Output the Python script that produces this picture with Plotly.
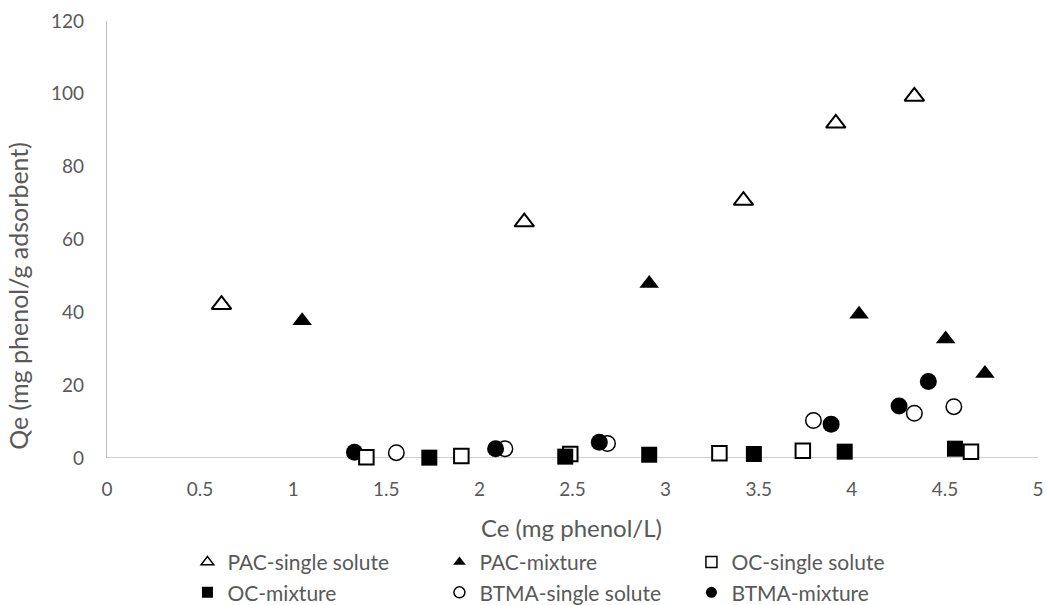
import plotly.graph_objects as go

# ---- data ----
pac_single_x = [0.615, 2.241, 3.418, 3.914, 4.336]
pac_single_y = [42.1, 64.8, 70.7, 91.9, 99.3]

pac_mix_x = [1.048, 2.912, 4.039, 4.504, 4.715]
pac_mix_y = [37.7, 47.9, 39.5, 32.7, 23.2]

oc_single_x = [1.393, 1.903, 2.488, 3.289, 3.737, 4.640]
oc_single_y = [0.2, 0.55, 1.1, 1.28, 2.0, 1.74]

oc_mix_x = [1.731, 2.461, 2.912, 3.474, 3.962, 4.554]
oc_mix_y = [0.1, 0.37, 0.9, 1.1, 1.74, 2.56]

btma_single_x = [1.554, 2.137, 2.688, 3.794, 4.336, 4.548]
btma_single_y = [1.47, 2.56, 4.0, 10.3, 12.3, 14.1]

btma_mix_x = [1.329, 2.087, 2.644, 3.889, 4.254, 4.411]
btma_mix_y = [1.56, 2.56, 4.3, 9.3, 14.3, 21.0]

series_names = ["PAC-single solute", "PAC-mixture", "OC-single solute",
                "OC-mixture", "BTMA-single solute", "BTMA-mixture"]

x_ticks = [0, 0.5, 1, 1.5, 2, 2.5, 3, 3.5, 4, 4.5, 5]
x_tick_labels = ["0", "0.5", "1", "1.5", "2", "2.5", "3", "3.5", "4", "4.5", "5"]
y_ticks = [0, 20, 40, 60, 80, 100, 120]

x_title = "Ce (mg phenol/L)"
y_title = "Qe (mg phenol/g adsorbent)"

FONT = "Lato, 'Open Sans', sans-serif"
GREY = "#595959"

styles = {
    "PAC-single solute": dict(symbol="triangle-up", color="white", line=dict(color="black", width=2), size=17),
    "PAC-mixture": dict(symbol="triangle-up", color="black", line=dict(color="black", width=0), size=17),
    "OC-single solute": dict(symbol="square", color="white", line=dict(color="black", width=2), size=14.5),
    "OC-mixture": dict(symbol="square", color="black", line=dict(color="black", width=0), size=16),
    "BTMA-single solute": dict(symbol="circle", color="white", line=dict(color="black", width=1.5), size=15.5),
    "BTMA-mixture": dict(symbol="circle", color="black", line=dict(color="black", width=0), size=17),
}
legend_sizes = {"triangle-up": 11, "square": 11, "circle": 11}

data = {
    "PAC-single solute": (pac_single_x, pac_single_y),
    "PAC-mixture": (pac_mix_x, pac_mix_y),
    "OC-single solute": (oc_single_x, oc_single_y),
    "OC-mixture": (oc_mix_x, oc_mix_y),
    "BTMA-single solute": (btma_single_x, btma_single_y),
    "BTMA-mixture": (btma_mix_x, btma_mix_y),
}

fig = go.Figure()

# data traces (drawing order chosen to match overlaps in the reference)
draw_order = ["PAC-single solute", "PAC-mixture", "BTMA-single solute",
              "BTMA-mixture", "OC-single solute", "OC-mixture"]
for name in draw_order:
    xs, ys = data[name]
    st = styles[name]
    fig.add_trace(go.Scatter(
        x=xs, y=ys, mode="markers", name=name, showlegend=False,
        marker=dict(symbol=st["symbol"], size=st["size"], color=st["color"], line=st["line"]),
        cliponaxis=False,
    ))

# legend entries (small symbols like the reference)
for name in series_names:
    st = styles[name]
    lw = st["line"]["width"]
    fig.add_trace(go.Scatter(
        x=[None], y=[None], mode="markers", name=name, showlegend=True,
        marker=dict(symbol=st["symbol"], size=legend_sizes[st["symbol"]], color=st["color"],
                    line=dict(color="black", width=1.5 if lw else 0)),
    ))

fig.update_layout(
    width=1047, height=605,
    margin=dict(l=106.5, r=9, t=21, b=147, autoexpand=False),
    paper_bgcolor="white", plot_bgcolor="white",
    font=dict(family=FONT, color=GREY, size=19),
    showlegend=True,
    legend=dict(
        orientation="h", x=0.0864, xanchor="left", y=-0.192, yanchor="top",
        entrywidth=207, entrywidthmode="pixels",
        font=dict(family=FONT, size=21, color=GREY),
        bgcolor="rgba(0,0,0,0)", itemwidth=30,
    ),
    xaxis=dict(
        range=[0, 5], tickmode="array", tickvals=x_ticks, ticktext=x_tick_labels,
        showgrid=False, zeroline=False, showline=False, ticks="",
        ticklabelstandoff=18,
        tickfont=dict(family=FONT, size=19, color=GREY),
    ),
    yaxis=dict(
        range=[0, 120], tickmode="array", tickvals=y_ticks,
        showgrid=False, zeroline=False, showline=True, linecolor="#BFBFBF", linewidth=1.3,
        ticks="", ticklabelstandoff=18,
        tickfont=dict(family=FONT, size=19, color=GREY),
    ),
    shapes=[dict(type="line", xref="x", yref="y", x0=0, x1=5, y0=0, y1=0,
                 line=dict(color="#BFBFBF", width=1.3), layer="below")],
    annotations=[
        dict(text=x_title, xref="paper", yref="paper", x=0.4987, y=-0.158,
             xanchor="center", yanchor="middle", showarrow=False,
             font=dict(family=FONT, size=24, color=GREY)),
        dict(text=y_title, xref="paper", yref="paper", x=-0.095, y=0.37,
             xanchor="center", yanchor="middle", textangle=-90, showarrow=False,
             font=dict(family=FONT, size=25, color=GREY)),
    ],
)

# remove the default page margin so the figure fills the window exactly
fig.write_html(
    "out.html",
    config={"displayModeBar": False},
    post_script="document.body.style.margin='0';document.body.style.overflow='hidden';",
)
